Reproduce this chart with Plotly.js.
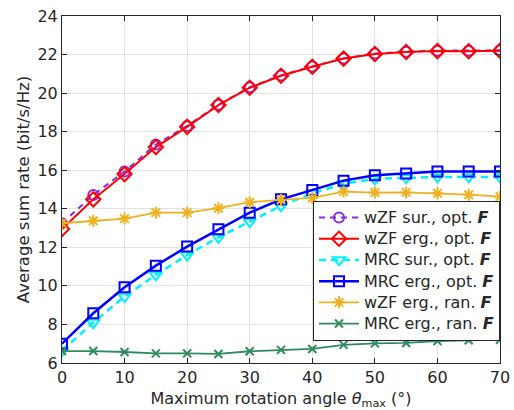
<!DOCTYPE html>
<html>
<head>
<meta charset="utf-8">
<script src="https://cdn.plot.ly/plotly-3.0.1.min.js"></script>
<style>
  html, body { margin: 0; padding: 0; background: #fff; }
  #chart { width: 514px; height: 410px; }
  /* legend lettering a little larger than its compact row spacing */
  .legendtext { font-size: 16px !important; }
</style>
</head>
<body>
<div id="chart"></div>
<script>
// Maximum rotation angle (degrees)
const theta = [0, 5, 10, 15, 20, 25, 30, 35, 40, 45, 50, 55, 60, 65, 70];

// Average sum rate (bit/s/Hz) for each scheme
const wzfSurOpt = [13.25, 14.72, 15.93, 17.33, 18.30, 19.40, 20.30, 20.92, 21.38, 21.80, 22.05, 22.15, 22.20, 22.20, 22.22];
const wzfErgOpt = [12.95, 14.49, 15.80, 17.20, 18.25, 19.38, 20.28, 20.90, 21.37, 21.79, 22.03, 22.13, 22.18, 22.17, 22.20];
const mrcSurOpt = [6.65, 8.10, 9.45, 10.57, 11.60, 12.52, 13.33, 14.15, 14.80, 15.30, 15.55, 15.60, 15.65, 15.65, 15.65];
const mrcErgOpt = [7.00, 8.58, 9.93, 11.05, 12.04, 12.94, 13.80, 14.49, 14.98, 15.46, 15.74, 15.83, 15.93, 15.93, 15.93];
const wzfErgRan = [13.25, 13.38, 13.49, 13.80, 13.80, 14.03, 14.34, 14.46, 14.56, 14.89, 14.84, 14.85, 14.80, 14.73, 14.63];
const mrcErgRan = [6.62, 6.62, 6.57, 6.50, 6.50, 6.47, 6.61, 6.68, 6.73, 6.94, 7.02, 7.04, 7.14, 7.18, 7.21];

const seriesNames = [
  'wZF sur., opt. <b><i>F</i></b>',
  'wZF erg., opt. <b><i>F</i></b>',
  'MRC sur., opt. <b><i>F</i></b>',
  'MRC erg., opt. <b><i>F</i></b>',
  'wZF erg., ran. <b><i>F</i></b>',
  'MRC erg., ran. <b><i>F</i></b>'
];

const xTicks = [0, 10, 20, 30, 40, 50, 60, 70];
const yTicks = [6, 8, 10, 12, 14, 16, 18, 20, 22, 24];

function series(y, name, color, width, dash, symbol, size, mlw) {
  return {
    x: theta, y: y, name: name, type: 'scatter', mode: 'lines+markers',
    line: { color: color, width: width, dash: dash },
    marker: { symbol: symbol, size: size, color: color, line: { color: color, width: mlw } }
  };
}

const traces = [
  series(wzfSurOpt, seriesNames[0], '#8a2be2', 2, '6px,5px', 'circle-open', 10, 2),
  series(wzfErgOpt, seriesNames[1], '#ff0000', 2, 'solid', 'diamond-open', 11, 2),
  series(mrcSurOpt, seriesNames[2], '#00f0ff', 2.5, '7px,5px', 'triangle-down-open', 11, 2),
  series(mrcErgOpt, seriesNames[3], '#0000ff', 2.5, 'solid', 'square-open', 10, 2),
  series(wzfErgRan, seriesNames[4], '#edb120', 1.8, 'solid', 'asterisk-open', 10, 2),
  series(mrcErgRan, seriesNames[5], '#2e8b5e', 1.8, 'solid', 'x-thin-open', 8, 2)
];

const axisCommon = {
  showline: true, mirror: 'ticks', linecolor: '#262626', linewidth: 1,
  ticks: 'inside', ticklen: 5, tickcolor: '#262626', tickwidth: 1,
  showgrid: true, gridcolor: '#e2e2e2', gridwidth: 1, zeroline: false,
  tickfont: { family: 'DejaVu Sans', size: 16, color: '#262626' },
  automargin: false
};

const layout = {
  width: 514, height: 410,
  margin: { l: 62, r: 14, t: 16, b: 47, pad: 0 },
  paper_bgcolor: '#ffffff', plot_bgcolor: '#ffffff',
  showlegend: true,
  xaxis: Object.assign({}, axisCommon, {
    range: [0, 70], tickvals: xTicks, ticktext: xTicks.map(String),
    title: { text: 'Maximum rotation angle <i>θ</i><sub>max</sub> (°)', standoff: 6,
             font: { family: 'DejaVu Sans', size: 16, color: '#262626' } }
  }),
  yaxis: Object.assign({}, axisCommon, {
    range: [6, 24], tickvals: yTicks, ticktext: yTicks.map(String),
    title: { text: 'Average sum rate (bit/s/Hz)', standoff: 3,
             font: { family: 'DejaVu Sans', size: 16.5, color: '#262626' } }
  }),
  legend: {
    x: 1, xanchor: 'right', y: 0.467, yanchor: 'top',
    bgcolor: '#ffffff', bordercolor: '#262626', borderwidth: 1,
    font: { family: 'DejaVu Sans', size: 14, color: '#262626' },
    tracegroupgap: 0, itemwidth: 40
  }
};

Plotly.newPlot('chart', traces, layout, { displayModeBar: false, staticPlot: true });
</script>
</body>
</html>
